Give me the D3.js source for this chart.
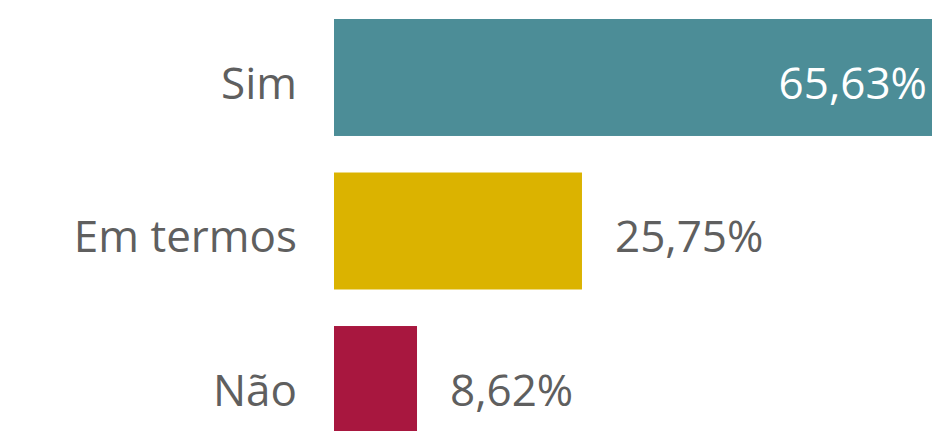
<!DOCTYPE html>
<html lang="pt">
<head>
<meta charset="utf-8">
<script src="https://cdn.jsdelivr.net/npm/d3@7"></script>
<style>
  html, body { margin: 0; padding: 0; background: #fff; overflow: hidden; }
  svg { display: block; }
</style>
</head>
<body>
<div id="chart"></div>
<script>
const categories = ['Sim', 'Em termos', 'Não']
const values = [65.63, 25.75, 8.62]
const colors = ['#4C8D97', '#DBB300', '#A8173F']

const width = 932
const height = 431
const left = 334

const locale = d3.formatLocale({ decimal: ',', thousands: '.', grouping: [3], currency: ['', ''] })
const fmt = (v) => locale.format('.2f')(v) + '%'

const svg = d3.select('#chart').append('svg')
  .attr('width', width)
  .attr('height', height)
  .style('font-family', '"Open Sans", "Noto Sans", sans-serif')

const x = d3.scaleLinear().domain([0, 100]).range([left, left + 963])
const y = d3.scaleBand().domain(categories).range([19, 443]).paddingInner(0.238).paddingOuter(0)

const rows = categories.map((c, i) => ({ name: c, value: values[i], color: colors[i] }))

svg.append('g').selectAll('rect')
  .data(rows)
  .join('rect')
  .attr('x', x(0))
  .attr('y', (d) => y(d.name))
  .attr('width', (d) => x(d.value) - x(0))
  .attr('height', y.bandwidth())
  .attr('fill', (d) => d.color)

// category labels
svg.append('g').selectAll('text')
  .data(rows)
  .join('text')
  .attr('x', x(0) - 37)
  .attr('y', (d) => y(d.name) + y.bandwidth() / 2)
  .attr('dy', '0.48em')
  .attr('text-anchor', 'end')
  .attr('fill', '#5F5F5F')
  .attr('font-size', 44)
  .text((d) => d.name)

// value labels: inside if the bar runs past the edge, else outside
svg.append('g').selectAll('text')
  .data(rows)
  .join('text')
  .each(function (d) {
    const end = x(d.value)
    const inside = end > width - 150
    d3.select(this)
      .attr('x', inside ? Math.min(end, width) - 5 : end + 33)
      .attr('text-anchor', inside ? 'end' : 'start')
      .attr('fill', inside ? '#FFFFFF' : '#5F5F5F')
  })
  .attr('y', (d) => y(d.name) + y.bandwidth() / 2)
  .attr('dy', '0.48em')
  .attr('font-size', 44)
  .text((d) => fmt(d.value))
</script>
</body>
</html>
